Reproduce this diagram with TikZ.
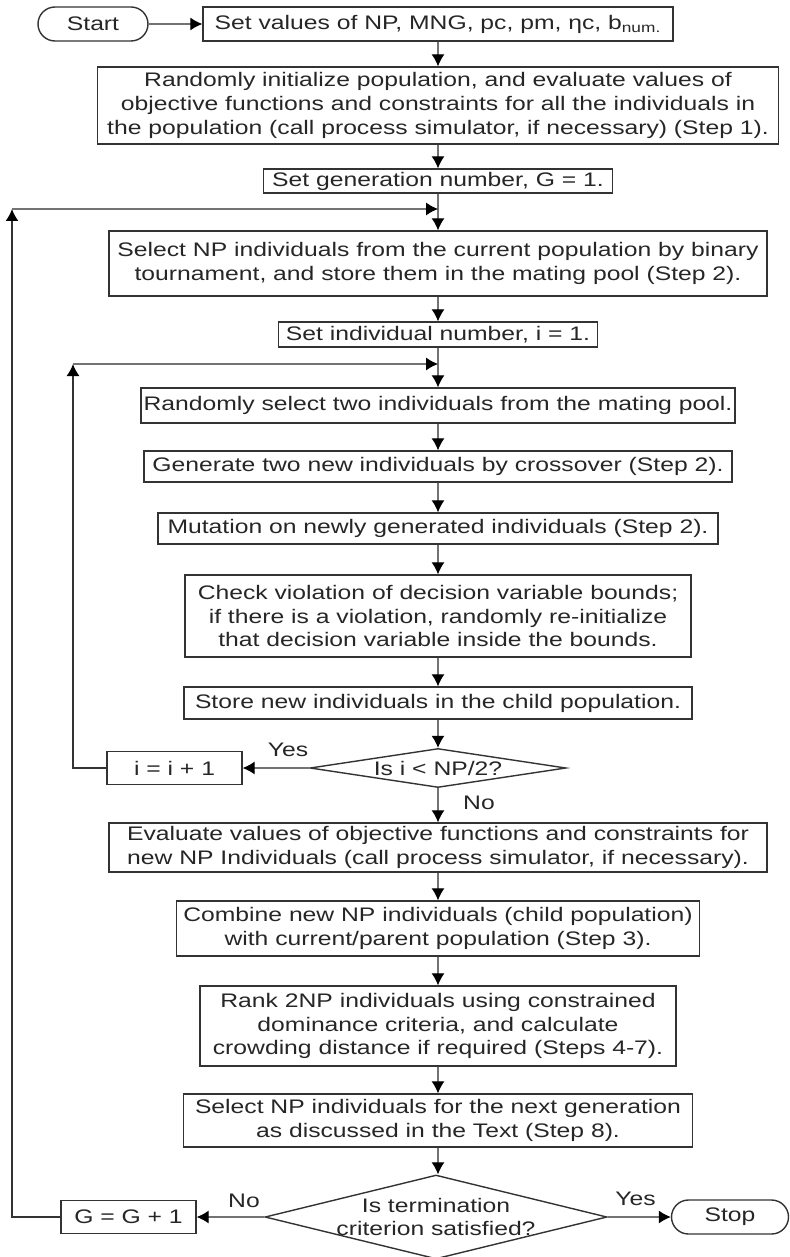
\documentclass[tikz,border=0pt]{standalone}
\usepackage{fontspec}
\setmainfont{Liberation Sans}[FakeStretch=1.26]
\usetikzlibrary{shapes, arrows.meta, positioning}

\begin{document}
\begin{tikzpicture}[x=0.5pt, y=-0.5pt, >={Latex[length=6pt, width=6.5pt, color=black]},
    font=\fontsize{9.8pt}{11.8pt}\selectfont, text=black!85,
    box/.style={draw=black!80, line width=0.7pt, rectangle, inner sep=0pt, align=center},
    terminal/.style={box, rounded corners=8.5pt},
    decision/.style={draw=black!80, line width=0.7pt, diamond, inner sep=0pt},
    conn/.style={draw=black!55, line width=0.55pt},
    back/.style={draw=black!80, line width=0.7pt}]
    \useasboundingbox (0,0) rectangle (789,1257);

    \node[terminal, minimum width=55pt, minimum height=17pt] (start) at (93,24) {Start};
    \node[box, minimum width=235pt, minimum height=17pt] (setpar) at (438,24) {Set values of NP, MNG, pc, pm, ηc, b\textsubscript{num.}};
    \node[box, minimum width=340.5pt, minimum height=38.5pt] (init) at (438,105.5) {Randomly initialize population, and evaluate values of\\objective functions and constraints for all the individuals in\\the population (call process simulator, if necessary) (Step 1).};
    \node[box, minimum width=174.5pt, minimum height=12pt] (setG) at (438,181) {Set generation number, G = 1.};
    \node[box, minimum width=329pt, minimum height=32.5pt] (select) at (438,263.5) {Select NP individuals from the current population by binary\\tournament, and store them in the mating pool (Step 2).};
    \node[box, minimum width=159.5pt, minimum height=12.5pt] (seti) at (438,334.5) {Set individual number, i = 1.};
    \node[box, minimum width=297pt, minimum height=17.5pt] (pick) at (438,405.5) {Randomly select two individuals from the mating pool.};
    \node[box, minimum width=294pt, minimum height=15.5pt] (cross) at (438,466.5) {Generate two new individuals by crossover (Step 2).};
    \node[box, minimum width=280pt, minimum height=15.5pt] (mutate) at (438,528.5) {Mutation on newly generated individuals (Step 2).};
    \node[box, minimum width=253pt, minimum height=41pt] (bounds) at (438,616) {Check violation of decision variable bounds;\\if there is a violation, randomly re-initialize\\that decision variable inside the bounds.};
    \node[box, minimum width=254pt, minimum height=16pt] (store) at (438,703) {Store new individuals in the child population.};
    \node[decision, minimum width=128pt, minimum height=19.5pt, label=center:{Is i < NP/2?}] (checki) at (438,768) {};
    \node[box, minimum width=67.5pt, minimum height=16.5pt] (incr) at (174.5,768) {i = i + 1};
    \node[box, minimum width=329pt, minimum height=24.5pt] (eval) at (438,847.5) {Evaluate values of objective functions and constraints for\\new NP Individuals (call process simulator, if necessary).};
    \node[box, minimum width=261.5pt, minimum height=27.5pt] (combine) at (438,928.5) {Combine new NP individuals (child population)\\with current/parent population (Step 3).};
    \node[box, minimum width=238pt, minimum height=40pt] (rank) at (438,1026) {Rank 2NP individuals using constrained\\dominance criteria, and calculate\\crowding distance if required (Steps 4-7).};
    \node[box, minimum width=254.5pt, minimum height=26.5pt] (nextgen) at (438,1120.5) {Select NP individuals for the next generation\\as discussed in the Text (Step 8).};
    \node[decision, minimum width=171pt, minimum height=42pt, label={[align=center]center:Is termination\\criterion satisfied?}] (checkG) at (436,1217) {};
    \node[box, minimum width=67.5pt, minimum height=16.5pt] (incG) at (128.5,1217) {G = G + 1};
    \node[terminal, minimum width=58.5pt, minimum height=17pt] (stop) at (730,1217) {Stop};

    \coordinate (outerL) at (12,209);
    \coordinate (outerR) at (438,209);
    \coordinate (innerL) at (73,364);
    \coordinate (innerR) at (438,364);

    \draw[conn,->] (start) -- (setpar);
    \foreach \a/\b in {setpar/init, init/setG, setG/select, select/seti, seti/pick, pick/cross, cross/mutate, mutate/bounds, bounds/store, store/checki, eval/combine, combine/rank, rank/nextgen}
        \draw[conn,->] (\a) -- (\b);
    \draw[conn,->] (nextgen.south) -- (nextgen.south |- checkG.north);

    \draw[conn,->] (checki) -- node[above, pos=0.32, yshift=2pt] {Yes} (incr);
    \draw[conn,->] (checki) -- node[right, pos=0.43, xshift=9pt] {No} (eval);
    \draw[back,->] (incr.west) -| (innerL);
    \draw[conn,->] (innerL) -- (innerR);

    \draw[conn,->] (checkG.west) -- node[above, pos=0.3, yshift=1pt] {No} (incG);
    \draw[conn,->] (checkG.east) -- node[above, pos=0.44, yshift=2pt] {Yes} (stop);
    \draw[back,->] (incG.west) -| (outerL);
    \draw[conn,->] (outerL) -- (outerR);
\end{tikzpicture}
\end{document}
